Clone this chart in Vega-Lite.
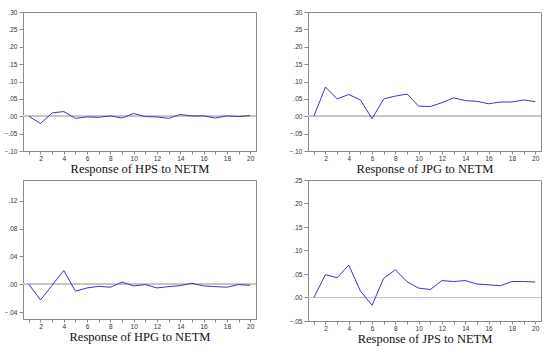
{
  "$schema": "https://vega.github.io/schema/vega-lite/v6.json",
  "padding": {"top": 8, "left": 3, "right": 5, "bottom": 2},
  "background": "white",
  "datasets": {
    "irf": [
      {"series": "HPS", "step": 1, "value": 0.0},
      {"series": "HPS", "step": 2, "value": -0.021},
      {"series": "HPS", "step": 3, "value": 0.0096},
      {"series": "HPS", "step": 4, "value": 0.0135},
      {"series": "HPS", "step": 5, "value": -0.006},
      {"series": "HPS", "step": 6, "value": -0.002},
      {"series": "HPS", "step": 7, "value": -0.003},
      {"series": "HPS", "step": 8, "value": 0.001},
      {"series": "HPS", "step": 9, "value": -0.005},
      {"series": "HPS", "step": 10, "value": 0.008},
      {"series": "HPS", "step": 11, "value": -0.001},
      {"series": "HPS", "step": 12, "value": -0.002},
      {"series": "HPS", "step": 13, "value": -0.006},
      {"series": "HPS", "step": 14, "value": 0.005},
      {"series": "HPS", "step": 15, "value": 0.001},
      {"series": "HPS", "step": 16, "value": 0.001},
      {"series": "HPS", "step": 17, "value": -0.005},
      {"series": "HPS", "step": 18, "value": 0.001},
      {"series": "HPS", "step": 19, "value": -0.001},
      {"series": "HPS", "step": 20, "value": 0.002},
      {"series": "JPG", "step": 1, "value": 0.0},
      {"series": "JPG", "step": 2, "value": 0.084},
      {"series": "JPG", "step": 3, "value": 0.05},
      {"series": "JPG", "step": 4, "value": 0.0625},
      {"series": "JPG", "step": 5, "value": 0.047},
      {"series": "JPG", "step": 6, "value": -0.007},
      {"series": "JPG", "step": 7, "value": 0.05},
      {"series": "JPG", "step": 8, "value": 0.058},
      {"series": "JPG", "step": 9, "value": 0.064},
      {"series": "JPG", "step": 10, "value": 0.029},
      {"series": "JPG", "step": 11, "value": 0.028},
      {"series": "JPG", "step": 12, "value": 0.039},
      {"series": "JPG", "step": 13, "value": 0.053},
      {"series": "JPG", "step": 14, "value": 0.045},
      {"series": "JPG", "step": 15, "value": 0.043},
      {"series": "JPG", "step": 16, "value": 0.036},
      {"series": "JPG", "step": 17, "value": 0.041},
      {"series": "JPG", "step": 18, "value": 0.041},
      {"series": "JPG", "step": 19, "value": 0.047},
      {"series": "JPG", "step": 20, "value": 0.042},
      {"series": "HPG", "step": 1, "value": 0.0},
      {"series": "HPG", "step": 2, "value": -0.0227},
      {"series": "HPG", "step": 3, "value": -0.0015},
      {"series": "HPG", "step": 4, "value": 0.0198},
      {"series": "HPG", "step": 5, "value": -0.010},
      {"series": "HPG", "step": 6, "value": -0.0053},
      {"series": "HPG", "step": 7, "value": -0.003},
      {"series": "HPG", "step": 8, "value": -0.0043},
      {"series": "HPG", "step": 9, "value": 0.003},
      {"series": "HPG", "step": 10, "value": -0.0024},
      {"series": "HPG", "step": 11, "value": -0.0005},
      {"series": "HPG", "step": 12, "value": -0.0053},
      {"series": "HPG", "step": 13, "value": -0.0034},
      {"series": "HPG", "step": 14, "value": -0.002},
      {"series": "HPG", "step": 15, "value": 0.0014},
      {"series": "HPG", "step": 16, "value": -0.0024},
      {"series": "HPG", "step": 17, "value": -0.0034},
      {"series": "HPG", "step": 18, "value": -0.0043},
      {"series": "HPG", "step": 19, "value": -0.0005},
      {"series": "HPG", "step": 20, "value": -0.0015},
      {"series": "JPS", "step": 1, "value": 0.0},
      {"series": "JPS", "step": 2, "value": 0.0486},
      {"series": "JPS", "step": 3, "value": 0.042},
      {"series": "JPS", "step": 4, "value": 0.069},
      {"series": "JPS", "step": 5, "value": 0.0136},
      {"series": "JPS", "step": 6, "value": -0.0164},
      {"series": "JPS", "step": 7, "value": 0.041},
      {"series": "JPS", "step": 8, "value": 0.059},
      {"series": "JPS", "step": 9, "value": 0.0336},
      {"series": "JPS", "step": 10, "value": 0.02},
      {"series": "JPS", "step": 11, "value": 0.017},
      {"series": "JPS", "step": 12, "value": 0.036},
      {"series": "JPS", "step": 13, "value": 0.034},
      {"series": "JPS", "step": 14, "value": 0.036},
      {"series": "JPS", "step": 15, "value": 0.0286},
      {"series": "JPS", "step": 16, "value": 0.027},
      {"series": "JPS", "step": 17, "value": 0.025},
      {"series": "JPS", "step": 18, "value": 0.034},
      {"series": "JPS", "step": 19, "value": 0.034},
      {"series": "JPS", "step": 20, "value": 0.033}
    ]
  },
  "columns": 2,
  "spacing": {"row": 0, "column": 31},
  "concat": [
    {
      "width": 233, "height": 139,
      "data": {"name": "irf"},
      "transform": [{"filter": "datum.series === 'HPS'"}],
      "layer": [
        {"mark": {"type": "rule", "color": "#c4c4c4", "strokeWidth": 1}, "encoding": {"y": {"datum": 0, "type": "quantitative"}}},
        {"mark": {"type": "line", "color": "#3535d0", "strokeWidth": 1},
         "encoding": {
           "x": {"field": "step", "type": "quantitative", "scale": {"domain": [0.5, 20.5], "nice": false},
                 "axis": {"title": "Response of HPS to NETM", "tickCount": 50, "values": [1,2,3,4,5,6,7,8,9,10,11,12,13,14,15,16,17,18,19,20], "labelExpr": "datum.value % 2 == 0 ? datum.value : ''"}},
           "y": {"field": "value", "type": "quantitative", "scale": {"domain": [-0.1, 0.3], "nice": false, "zero": false},
                 "axis": {"title": null, "tickCount": 50, "values": [-0.1,-0.05,0,0.05,0.1,0.15,0.2,0.25,0.3]}}
         }}
      ]
    },
    {
      "width": 233, "height": 139,
      "data": {"name": "irf"},
      "transform": [{"filter": "datum.series === 'JPG'"}],
      "layer": [
        {"mark": {"type": "rule", "color": "#c4c4c4", "strokeWidth": 1}, "encoding": {"y": {"datum": 0, "type": "quantitative"}}},
        {"mark": {"type": "line", "color": "#3535d0", "strokeWidth": 1},
         "encoding": {
           "x": {"field": "step", "type": "quantitative", "scale": {"domain": [0.5, 20.5], "nice": false},
                 "axis": {"title": "Response of JPG to NETM", "tickCount": 50, "values": [1,2,3,4,5,6,7,8,9,10,11,12,13,14,15,16,17,18,19,20], "labelExpr": "datum.value % 2 == 0 ? datum.value : ''"}},
           "y": {"field": "value", "type": "quantitative", "scale": {"domain": [-0.1, 0.3], "nice": false, "zero": false},
                 "axis": {"title": null, "tickCount": 50, "values": [-0.1,-0.05,0,0.05,0.1,0.15,0.2,0.25,0.3]}}
         }}
      ]
    },
    {
      "width": 233, "height": 139,
      "data": {"name": "irf"},
      "transform": [{"filter": "datum.series === 'HPG'"}],
      "layer": [
        {"mark": {"type": "rule", "color": "#c4c4c4", "strokeWidth": 1}, "encoding": {"y": {"datum": 0, "type": "quantitative"}}},
        {"mark": {"type": "line", "color": "#3535d0", "strokeWidth": 1},
         "encoding": {
           "x": {"field": "step", "type": "quantitative", "scale": {"domain": [0.5, 20.5], "nice": false},
                 "axis": {"title": "Response of HPG to NETM", "tickCount": 50, "values": [1,2,3,4,5,6,7,8,9,10,11,12,13,14,15,16,17,18,19,20], "labelExpr": "datum.value % 2 == 0 ? datum.value : ''"}},
           "y": {"field": "value", "type": "quantitative", "scale": {"domain": [-0.05, 0.15], "nice": false, "zero": false},
                 "axis": {"title": null, "tickCount": 50, "values": [-0.04,0,0.04,0.08,0.12]}}
         }}
      ]
    },
    {
      "width": 233, "height": 141,
      "data": {"name": "irf"},
      "transform": [{"filter": "datum.series === 'JPS'"}],
      "layer": [
        {"mark": {"type": "rule", "color": "#c4c4c4", "strokeWidth": 1}, "encoding": {"y": {"datum": 0, "type": "quantitative"}}},
        {"mark": {"type": "line", "color": "#3535d0", "strokeWidth": 1},
         "encoding": {
           "x": {"field": "step", "type": "quantitative", "scale": {"domain": [0.5, 20.5], "nice": false},
                 "axis": {"title": "Response of JPS to NETM", "tickCount": 50, "values": [1,2,3,4,5,6,7,8,9,10,11,12,13,14,15,16,17,18,19,20], "labelExpr": "datum.value % 2 == 0 ? datum.value : ''"}},
           "y": {"field": "value", "type": "quantitative", "scale": {"domain": [-0.05, 0.25], "nice": false, "zero": false},
                 "axis": {"title": null, "tickCount": 50, "values": [-0.05,0,0.05,0.1,0.15,0.2,0.25]}}
         }}
      ]
    }
  ],
  "config": {
    "view": {"stroke": "#8a8a8a", "strokeWidth": 1},
    "axis": {
      "grid": false,
      "domainColor": "#8a8a8a",
      "tickColor": "#8a8a8a",
      "labelFont": "Liberation Sans",
      "labelFontSize": 6.5,
      "labelColor": "#333333",
      "labelOverlap": false,
      "titleFont": "Liberation Serif",
      "titleFontSize": 12.5,
      "titleFontWeight": "normal",
      "titleColor": "#111111",
      "titlePadding": 1
    },
    "axisX": {"tickSize": 3, "labelPadding": 1, "labelFlush": false},
    "axisY": {"tickSize": 4, "labelPadding": 2, "labelExpr": "replace(format(datum.value, '.2f'), '0.', '.')"}
  }
}
